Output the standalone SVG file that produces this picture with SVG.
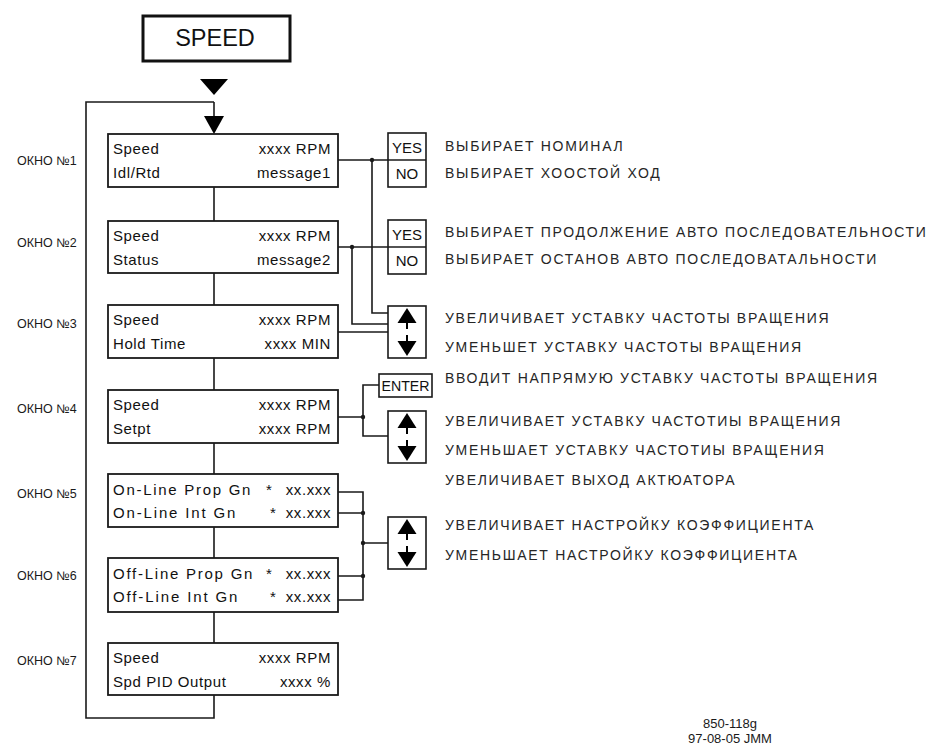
<svg xmlns="http://www.w3.org/2000/svg" width="935" height="747" viewBox="0 0 935 747">
<style>
.box{fill:#fff;stroke:#1a1a1a;stroke-width:1.8}
.key{fill:#fff;stroke:#1a1a1a;stroke-width:1.6}
.ln{fill:none;stroke:#1a1a1a;stroke-width:1.6}
.dot{fill:#1a1a1a}
.tri{fill:#000}
.bt{font-family:"Liberation Sans",Arial,sans-serif;font-size:15px;letter-spacing:0.6px;fill:#111}
.br{font-family:"Liberation Sans",Arial,sans-serif;font-size:15px;letter-spacing:0.6px;fill:#111;text-anchor:end}
.kt{font-family:"Liberation Sans",Arial,sans-serif;font-size:15px;fill:#111;text-anchor:middle}
.desc{font-family:"Liberation Sans",Arial,sans-serif;font-size:14px;letter-spacing:1.7px;fill:#262626}
.lbl{font-family:"Liberation Sans",Arial,sans-serif;font-size:12.5px;fill:#1a1a1a}
.code{font-family:"Liberation Sans",Arial,sans-serif;font-size:13px;fill:#1a1a1a;text-anchor:middle}
</style>
<defs>
<g id="updown">
<rect class="key" x="0" y="0" width="38" height="52"/>
<polygon class="tri" points="19,2 9.5,17 28.5,17"/>
<rect class="tri" x="18" y="17" width="2" height="6"/>
<rect class="tri" x="18" y="29" width="2" height="6"/>
<polygon class="tri" points="19,50 9.5,35 28.5,35"/>
</g>
<g id="yesno">
<rect class="key" x="0" y="0" width="38" height="54"/>
<line class="ln" x1="0" y1="27" x2="38" y2="27"/>
<text class="kt" x="19" y="20">YES</text>
<text class="kt" x="19" y="46">NO</text>
</g>
</defs>

<g id="speed-title">
<rect x="143" y="16" width="147" height="45" fill="#fff" stroke="#111" stroke-width="3"/>
<text x="215" y="46" font-family="Liberation Sans,Arial,sans-serif" font-size="23.5" text-anchor="middle" fill="#111">SPEED</text>
<polygon class="tri" points="200,79 228,79 214,95"/>
</g>

<g id="connectors">
<path class="ln" d="M214,102 H86 V718 H214 V695"/>
<path class="ln" d="M214,102 V118"/>
<polygon class="tri" points="204,116 224,116 214,134"/>
<path class="ln" d="M214,187 V221 M214,273 V305 M214,358 V390 M214,443 V474 M214,527 V558 M214,612 V643"/>
<path class="ln" d="M338,160 H388 M372,160 V313 H388"/>
<path class="ln" d="M338,247 H388 M352,247 V324 H388"/>
<path class="ln" d="M338,332 H388"/>
<path class="ln" d="M338,417 H363 M379,385 H363 V436 H388"/>
<path class="ln" d="M338,492 H363 V600 H338 M338,513 H363 M363,543 H388 M338,576 H363"/>
<circle class="dot" cx="372" cy="160" r="2.2"/>
<circle class="dot" cx="352" cy="247" r="2.2"/>
<circle class="dot" cx="363" cy="417" r="2.2"/>
<circle class="dot" cx="363" cy="513" r="2.2"/>
<circle class="dot" cx="363" cy="543" r="2.2"/>
<circle class="dot" cx="363" cy="576" r="2.2"/>
</g>

<g id="window1">
<rect class="box" x="108" y="134" width="230" height="53"/>
<text class="bt" x="113" y="154">Speed</text><text class="br" x="331" y="154">xxxx RPM</text>
<text class="bt" x="113" y="178">Idl/Rtd</text><text class="br" x="331" y="178">message1</text>
</g>
<g id="window2">
<rect class="box" x="108" y="221" width="230" height="52"/>
<text class="bt" x="113" y="241">Speed</text><text class="br" x="331" y="241">xxxx RPM</text>
<text class="bt" x="113" y="265">Status</text><text class="br" x="331" y="265">message2</text>
</g>
<g id="window3">
<rect class="box" x="108" y="305" width="230" height="53"/>
<text class="bt" x="113" y="325">Speed</text><text class="br" x="331" y="325">xxxx RPM</text>
<text class="bt" x="113" y="349">Hold  Time</text><text class="br" x="331" y="349">xxxx MIN</text>
</g>
<g id="window4">
<rect class="box" x="108" y="390" width="230" height="53"/>
<text class="bt" x="113" y="410">Speed</text><text class="br" x="331" y="410">xxxx RPM</text>
<text class="bt" x="113" y="434">Setpt</text><text class="br" x="331" y="434">xxxx RPM</text>
</g>
<g id="window5">
<rect class="box" x="108" y="474" width="230" height="53"/>
<text class="bt" x="113" y="495" textLength="138">On-Line Prop Gn</text><text class="bt" x="266" y="495">*</text><text class="br" x="331" y="495">xx.xxx</text>
<text class="bt" x="113" y="518" textLength="123">On-Line Int Gn</text><text class="bt" x="270" y="518">*</text><text class="br" x="331" y="518">xx.xxx</text>
</g>
<g id="window6">
<rect class="box" x="108" y="558" width="230" height="54"/>
<text class="bt" x="113" y="579" textLength="140">Off-Line Prop Gn</text><text class="bt" x="266" y="579">*</text><text class="br" x="331" y="579">xx.xxx</text>
<text class="bt" x="113" y="602" textLength="125">Off-Line Int Gn</text><text class="bt" x="270" y="602">*</text><text class="br" x="331" y="602">xx.xxx</text>
</g>
<g id="window7">
<rect class="box" x="108" y="643" width="230" height="52"/>
<text class="bt" x="113" y="663">Speed</text><text class="br" x="331" y="663">xxxx RPM</text>
<text class="bt" x="113" y="687">Spd PID Output</text><text class="br" x="331" y="687">xxxx %</text>
</g>

<g id="labels">
<text class="lbl" x="17" y="165">ОКНО №1</text>
<text class="lbl" x="17" y="247">ОКНО №2</text>
<text class="lbl" x="17" y="328">ОКНО №3</text>
<text class="lbl" x="17" y="413">ОКНО №4</text>
<text class="lbl" x="17" y="498">ОКНО №5</text>
<text class="lbl" x="17" y="580">ОКНО №6</text>
<text class="lbl" x="17" y="665">ОКНО №7</text>
</g>

<g id="key-yesno1"><use href="#yesno" x="388" y="133"/></g>
<g id="key-yesno2"><use href="#yesno" x="388" y="220"/></g>
<g id="key-updown1"><use href="#updown" x="388" y="306"/></g>
<g id="key-enter">
<rect class="key" x="379" y="374" width="53" height="23"/>
<text class="kt" x="405.5" y="391" textLength="48" lengthAdjust="spacingAndGlyphs">ENTER</text>
</g>
<g id="key-updown2"><use href="#updown" x="388" y="411"/></g>
<g id="key-updown3"><use href="#updown" x="388" y="517"/></g>

<g id="descriptions">
<text class="desc" x="445" y="151">ВЫБИРАЕТ НОМИНАЛ</text>
<text class="desc" x="445" y="178">ВЫБИРАЕТ ХООСТОЙ ХОД</text>
<text class="desc" x="445" y="237">ВЫБИРАЕТ ПРОДОЛЖЕНИЕ АВТО ПОСЛЕДОВАТЕЛЬНОСТИ</text>
<text class="desc" x="445" y="264">ВЫБИРАЕТ ОСТАНОВ АВТО ПОСЛЕДОВАТАЛЬНОСТИ</text>
<text class="desc" x="445" y="323">УВЕЛИЧИВАЕТ УСТАВКУ ЧАСТОТЫ ВРАЩЕНИЯ</text>
<text class="desc" x="445" y="352">УМЕНЬШЕТ УСТАВКУ ЧАСТОТЫ ВРАЩЕНИЯ</text>
<text class="desc" x="445" y="383">ВВОДИТ НАПРЯМУЮ УСТАВКУ ЧАСТОТЫ ВРАЩЕНИЯ</text>
<text class="desc" x="445" y="426">УВЕЛИЧИВАЕТ УСТАВКУ ЧАСТОТИЫ ВРАЩЕНИЯ</text>
<text class="desc" x="445" y="455">УМЕНЬШАЕТ УСТАВКУ ЧАСТОТИЫ ВРАЩЕНИЯ</text>
<text class="desc" x="445" y="485">УВЕЛИЧИВАЕТ ВЫХОД АКТЮАТОРА</text>
<text class="desc" x="445" y="530">УВЕЛИЧИВАЕТ НАСТРОЙКУ КОЭФФИЦИЕНТА</text>
<text class="desc" x="445" y="560">УМЕНЬШАЕТ НАСТРОЙКУ КОЭФФИЦИЕНТА</text>
</g>

<g id="drawing-code">
<text class="code" x="730" y="728">850-118g</text>
<text class="code" x="730" y="743">97-08-05 JMM</text>
</g>
</svg>
